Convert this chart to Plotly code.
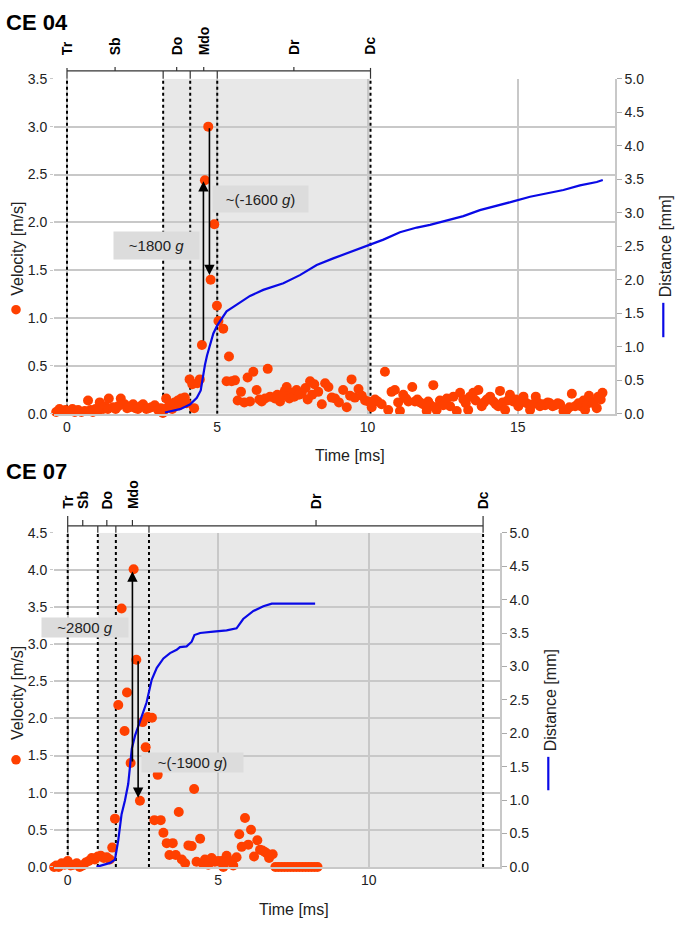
import plotly.graph_objects as go

W, H = 675, 927
def px(x): return x / W
def py(y): return 1 - y / H

# ---------------- DATA ----------------
# CE 04 : velocity points (time ms, velocity m/s)
t04 = [-0.36,-0.25,-0.15,-0.05,0.09,0.18,0.26,0.37,0.48,0.59,0.70,0.78,0.86,0.95,1.03,1.09,1.20,1.28,1.36,1.39,
       1.53,1.62,1.70,1.79,1.92,2.00,2.09,2.20,2.28,2.36,2.45,2.53,2.64,2.72,2.81,2.92,3.03,3.12,3.19,3.30,
       3.36,3.42,3.50,3.58,3.69,3.74,3.80,3.92,3.98,4.08,4.17,4.23,4.34,4.42,4.49,4.59,4.70,4.78,4.90,4.99,
       5.04,5.20,5.31,5.39,5.48,5.59,5.68,5.79,5.90,6.01,6.09,6.20,6.31,6.40,6.48,6.59,6.68,6.76,6.92,7.00,
       7.09,7.18,7.25,7.31,7.40,7.48,7.56,7.64,7.72,7.81,7.94,8.01,8.09,8.16,8.23,8.36,8.48,8.59,8.70,8.81,
       8.92,9.05,9.19,9.31,9.42,9.47,9.58,9.70,9.81,9.92,10.03,10.14,10.25,10.34,10.47,10.58,10.69,10.80,10.91,11.02,
       11.08,11.19,11.28,11.36,11.49,11.58,11.66,11.75,11.85,11.97,12.02,12.10,12.19,12.24,12.30,12.41,12.52,12.64,12.75,12.86,
       12.97,13.08,13.19,13.27,13.35,13.41,13.52,13.60,13.69,13.80,13.88,13.97,14.08,14.19,14.27,14.35,14.41,14.50,14.58,14.66,
       14.74,14.85,14.94,15.02,15.10,15.19,15.30,15.41,15.50,15.60,15.66,15.74,15.83,15.91,16.00,16.07,16.16,16.24,16.33,16.41,
       16.52,16.63,16.72,16.80,16.91,17.02,17.10,17.19,17.24,17.30,17.37,17.45,17.52,17.63,17.68,17.76,17.82]
v04 = [0.02,0.05,0.03,0.04,0.03,0.05,0.02,0.04,0.02,0.03,0.14,0.04,0.02,0.05,0.03,0.12,0.05,0.08,0.05,0.16,
       0.07,0.05,0.08,0.16,0.10,0.06,0.07,0.10,0.06,0.05,0.08,0.10,0.05,0.06,0.07,0.09,0.04,0.06,0.01,0.16,
       0.07,0.10,0.05,0.12,0.14,0.09,0.16,0.17,0.11,0.36,0.31,0.06,0.32,0.36,0.72,2.44,3.00,1.40,1.98,1.13,
       0.97,0.89,0.34,0.60,0.34,0.35,0.14,0.23,0.12,0.38,0.13,0.44,0.25,0.15,0.13,0.16,0.47,0.18,0.16,0.20,
       0.13,0.19,0.24,0.28,0.16,0.22,0.18,0.25,0.20,0.21,0.27,0.15,0.34,0.20,0.31,0.23,0.10,0.32,0.28,0.17,
       0.16,0.12,0.25,0.07,0.19,0.36,0.17,0.26,0.19,0.14,0.13,0.07,0.15,0.13,0.10,0.44,0.04,0.23,0.25,0.12,
       0.03,0.20,0.16,0.13,0.28,0.13,0.15,0.12,0.10,0.03,0.13,0.09,0.30,0.07,0.04,0.14,0.09,0.16,0.08,0.18,
       0.03,0.22,0.15,0.11,0.04,0.18,0.22,0.14,0.25,0.08,0.12,0.15,0.18,0.13,0.10,0.08,0.24,0.12,0.04,0.14,
       0.20,0.13,0.15,0.08,0.12,0.18,0.11,0.04,0.10,0.18,0.12,0.08,0.10,0.09,0.12,0.11,0.08,0.09,0.11,0.10,
       0.03,0.04,0.07,0.21,0.08,0.11,0.08,0.14,0.04,0.10,0.19,0.13,0.11,0.06,0.18,0.15,0.22]
# CE 04 : distance curve (time ms, distance mm)
t04_d = [3.26,3.50,3.76,4.09,4.32,4.45,4.52,4.59,4.66,4.75,4.87,5.00,5.31,5.65,6.09,6.53,7.20,7.75,8.31,8.86,
         9.42,9.97,10.53,11.08,11.64,12.08,12.64,13.19,13.74,14.30,14.85,15.41,15.96,16.52,17.07,17.63,17.83]
d04 = [0.02,0.04,0.07,0.14,0.24,0.35,0.55,0.73,0.87,1.02,1.20,1.32,1.53,1.63,1.76,1.85,1.95,2.07,2.22,2.32,
       2.41,2.51,2.60,2.71,2.78,2.82,2.88,2.95,3.04,3.10,3.17,3.24,3.29,3.34,3.41,3.46,3.49]

# CE 07 : velocity points
t07 = [-0.45,-0.38,-0.30,-0.20,-0.10,0.00,0.10,0.20,0.30,0.40,0.50,0.60,0.70,0.80,0.90,1.00,1.10,1.20,1.30,1.40,
       1.48,1.57,1.68,1.79,1.89,1.97,2.09,2.19,2.28,2.40,2.49,2.59,2.66,2.80,2.88,2.99,3.09,3.18,3.29,3.38,
       3.49,3.59,3.69,3.79,3.90,4.01,4.12,4.20,4.28,4.40,4.50,4.56,4.67,4.78,4.89,5.00,5.12,5.17,5.28,5.39,
       5.50,5.61,5.70,5.78,5.89,6.00,6.09,6.19,6.30,6.39,6.47,6.55,6.62,6.69,6.81,6.90,7.00,7.10,7.20,7.30,
       7.40,7.50,7.60,7.70,7.80,7.90,8.00,8.10,8.20,8.30]
v07 = [0.00,0.02,0.00,0.05,0.03,0.08,0.02,0.03,0.05,0.00,0.02,0.06,0.08,0.12,0.10,0.14,0.15,0.12,0.13,0.10,
       0.26,0.65,2.18,3.48,1.83,2.35,1.40,4.01,2.79,0.89,1.95,1.61,2.02,2.01,0.63,1.24,0.63,0.46,0.32,0.16,
       0.32,0.16,0.74,0.10,0.05,0.29,0.28,1.05,0.07,0.38,0.04,0.10,0.03,0.12,0.07,0.08,0.08,0.00,0.15,0.08,
       0.02,0.13,0.44,0.27,0.66,0.30,0.50,0.14,0.36,0.23,0.22,0.20,0.18,0.12,0.17,0.00,0.00,0.00,0.00,0.00,
       0.00,0.00,0.00,0.00,0.00,0.00,0.00,0.00,0.00,0.00]
# CE 07 : distance curve
t07_d = [0.96,1.41,1.57,1.68,1.79,1.90,2.01,2.13,2.24,2.40,2.62,2.79,2.96,3.18,3.40,3.62,3.73,3.95,4.12,4.21,
         4.40,4.84,5.28,5.61,5.83,6.17,6.50,6.78,8.22]
d07 = [0.00,0.06,0.11,0.40,0.79,0.99,1.24,1.77,1.97,2.17,2.46,2.80,2.98,3.12,3.20,3.25,3.29,3.30,3.37,3.47,
       3.50,3.52,3.54,3.57,3.71,3.83,3.90,3.94,3.94]

phase_names = ["Tr", "Sb", "Do", "Mdo", "Dr", "Dc"]
bounds04 = [0, 3.2, 4.1, 5.0, 10.1]
bounds07 = [0, 1.0, 1.6, 2.7, 13.8]
accel04 = ["~1800 <i>g</i>", "~(-1600 <i>g</i>)"]
accel07 = ["~2800 <i>g</i>", "~(-1900 <i>g</i>)"]
# arrows: (time, tail velocity, head velocity)
arrows04 = [(4.54, 0.75, 2.43), (4.74, 3.0, 1.45)]
arrows07 = [(2.15, 1.40, 3.98), (2.34, 2.79, 0.93)]
# label box centres (time, velocity)
boxes04 = [(2.98, 1.76), (6.44, 2.24)]
boxes07 = [(0.59, 3.23), (4.14, 1.40)]

# ---------------- STYLE ----------------
RED = "#ff4000"
BLUE = "#0a0ae6"
GRID = "#c8c8c8"
SHADE = "#e8e8e8"
FONT = "Liberation Sans, Arial, sans-serif"
TF = dict(family=FONT, size=14, color="#222")

fig = go.Figure()

panels = [
    dict(title="CE 04", t=t04, v=v04, td=t04_d, d=d04, bounds=bounds04, accel=accel04, arrows=arrows04,
         boxes=boxes04, box_wh=[(85, 27), (95, 26)], xa="x", ya="y", ya2="y2",
         left=54, right=615, top=72, bottom=413, x0=67.0, ppm=30.05, vmax=3.5, xt=[0, 5, 10, 15],
         title_y=15, bar_y=64, edge_top=61, lab_tick=60, lab_bottom=50,
         vtitle=(18, 245), dot=(16, 307), dtitle=(665, 242.5), dline=(663.3, 300, 335),
         xtitle=(350, 455)),
    dict(title="CE 07", t=t07, v=v07, td=t07_d, d=d07, bounds=bounds07, accel=accel07, arrows=arrows07,
         boxes=boxes07, box_wh=[(86, 19), (101, 19)], xa="x2", ya="y3", ya2="y4",
         left=54, right=500, top=534, bottom=874, x0=67.7, ppm=30.1, vmax=4.5, xt=[0, 5, 10],
         title_y=472, bar_y=527, edge_top=517, lab_tick=521, lab_bottom=512,
         vtitle=(18, 697), dot=(16, 765), dtitle=(550, 704.5), dline=(548.3, 762, 796),
         xtitle=(294, 917)),
]

shapes = []
annotations = []
layout_axes = {}

for p in panels:
    xa, ya, ya2 = p["xa"], p["ya"], p["ya2"]
    xr = [(p["left"] - p["x0"]) / p["ppm"], (p["right"] - p["x0"]) / p["ppm"]]
    fig.add_trace(go.Scatter(x=p["t"], y=p["v"], mode="markers", xaxis=xa, yaxis=ya,
                             marker=dict(color=RED, size=10, line=dict(width=0)),
                             cliponaxis=False, showlegend=False, name="Velocity"))
    fig.add_trace(go.Scatter(x=p["td"], y=p["d"], mode="lines", xaxis=xa, yaxis=ya2,
                             line=dict(color=BLUE, width=2.2), showlegend=False, name="Distance"))

    xkey = "xaxis" if xa == "x" else "xaxis" + xa[1:]
    ykey = "yaxis" if ya == "y" else "yaxis" + ya[1:]
    y2key = "yaxis" + ya2[1:]
    layout_axes[xkey] = dict(domain=[px(p["left"]), px(p["right"])], range=xr, anchor=ya,
                             tickvals=p["xt"], showgrid=True, gridcolor=GRID, gridwidth=1.5,
                             zeroline=False, showline=True, linecolor=GRID, linewidth=1.5,
                             ticks="", tickfont=TF)
    layout_axes[ykey] = dict(domain=[py(p["bottom"]), py(p["top"])], range=[0, p["vmax"]], dtick=0.5,
                             tickformat=".1f", anchor=xa, showgrid=True, gridcolor=GRID, gridwidth=1.5,
                             zeroline=False, showline=False, ticks="outside", ticklen=3,
                             tickcolor=GRID, tickfont=TF)
    layout_axes[y2key] = dict(overlaying=ya, side="right", anchor=xa, range=[0, 5], dtick=0.5,
                              tickformat=".1f", showgrid=False, zeroline=False, showline=True,
                              linecolor=GRID, linewidth=1.5, ticks="outside", ticklen=5,
                              tickcolor="#aaa", tickfont=TF)

    b = p["bounds"]
    # shaded region
    shapes.append(dict(type="rect", xref=xa, yref=ya, x0=b[1], x1=b[-1], y0=0, y1=p["vmax"],
                       fillcolor=SHADE, line=dict(width=0), layer="below"))
    # dotted boundaries
    for xb in b:
        shapes.append(dict(type="line", xref=xa, yref=ya, x0=xb, x1=xb, y0=0, y1=p["vmax"],
                           line=dict(color="black", width=2, dash="dot"), layer="between"))
    # phase bar
    BL = dict(color="#333", width=1.2)
    shapes.append(dict(type="line", xref=xa, yref="paper", x0=b[0], x1=b[-1],
                       y0=py(p["bar_y"]), y1=py(p["bar_y"]), line=BL))
    for i, xb in enumerate(b):
        ytop = p["edge_top"] if i in (0, len(b) - 1) else p["bar_y"]
        shapes.append(dict(type="line", xref=xa, yref="paper", x0=xb, x1=xb,
                           y0=py(p["top"]), y1=py(ytop), line=BL))
    label_x = [b[0]] + [(b[i] + b[i + 1]) / 2 for i in range(len(b) - 1)] + [b[-1]]
    for i, (nm, lx) in enumerate(zip(phase_names, label_x)):
        if 0 < i < len(label_x) - 1:
            shapes.append(dict(type="line", xref=xa, yref="paper", x0=lx, x1=lx,
                               y0=py(p["bar_y"]), y1=py(p["lab_tick"]), line=BL))
        annotations.append(dict(text="<b>%s</b>" % nm, xref=xa, yref="paper", x=lx, y=py(p["lab_bottom"]),
                                textangle=-90, xanchor="center", yanchor="bottom", showarrow=False,
                                font=dict(family=FONT, size=14, color="black")))
    # arrows
    for (xx, ytail, yhead) in p["arrows"]:
        annotations.append(dict(x=xx, y=yhead, ax=xx, ay=ytail, xref=xa, yref=ya, axref=xa, ayref=ya,
                                showarrow=True, arrowhead=2, arrowsize=1.3, arrowwidth=1.6,
                                arrowcolor="black", text="", standoff=0))
    # accel label boxes
    for txt, (bx, by), (bw, bh) in zip(p["accel"], p["boxes"], p["box_wh"]):
        annotations.append(dict(text=txt, x=bx, y=by, xref=xa, yref=ya, showarrow=False,
                                bgcolor="#dcdcdc", width=bw, height=bh, borderpad=0,
                                xanchor="center", yanchor="middle", valign="middle",
                                font=dict(family=FONT, size=15, color="#222")))
    # panel title
    annotations.append(dict(text="<b>%s</b>" % p["title"], xref="paper", yref="paper",
                            x=px(4), y=py(p["title_y"]), xanchor="left", yanchor="middle",
                            showarrow=False, font=dict(family=FONT, size=22, color="black")))
    # axis titles
    vx, vy = p["vtitle"]
    annotations.append(dict(text="Velocity [m/s]", xref="paper", yref="paper", x=px(vx), y=py(vy),
                            textangle=-90, showarrow=False, xanchor="center", yanchor="middle",
                            font=dict(family=FONT, size=16, color="#222")))
    dx, dy = p["dtitle"]
    annotations.append(dict(text="Distance [mm]", xref="paper", yref="paper", x=px(dx), y=py(dy),
                            textangle=-90, showarrow=False, xanchor="center", yanchor="middle",
                            font=dict(family=FONT, size=16, color="#222")))
    tx, ty = p["xtitle"]
    annotations.append(dict(text="Time [ms]", xref="paper", yref="paper", x=px(tx), y=py(ty),
                            showarrow=False, xanchor="center", yanchor="middle",
                            font=dict(family=FONT, size=16, color="#222")))
    # legend glyphs
    cx, cy = p["dot"]
    shapes.append(dict(type="circle", xref="paper", yref="paper", x0=px(cx - 4.8), x1=px(cx + 4.8),
                       y0=py(cy + 4.8), y1=py(cy - 4.8), fillcolor=RED, line=dict(width=0)))
    lx_, ly0, ly1 = p["dline"]
    shapes.append(dict(type="line", xref="paper", yref="paper", x0=px(lx_), x1=px(lx_),
                       y0=py(ly0), y1=py(ly1), line=dict(color=BLUE, width=2.2)))

fig.update_layout(width=W, height=H, margin=dict(l=0, r=0, t=0, b=0),
                  paper_bgcolor="white", plot_bgcolor="white",
                  font=dict(family=FONT, color="#222"),
                  shapes=shapes, annotations=annotations, showlegend=False, **layout_axes)

fig.write_html("out.html", config={"displayModeBar": False},
               post_script="document.body.style.margin='0';document.body.style.padding='0';"
                           "document.documentElement.style.overflow='hidden';")
